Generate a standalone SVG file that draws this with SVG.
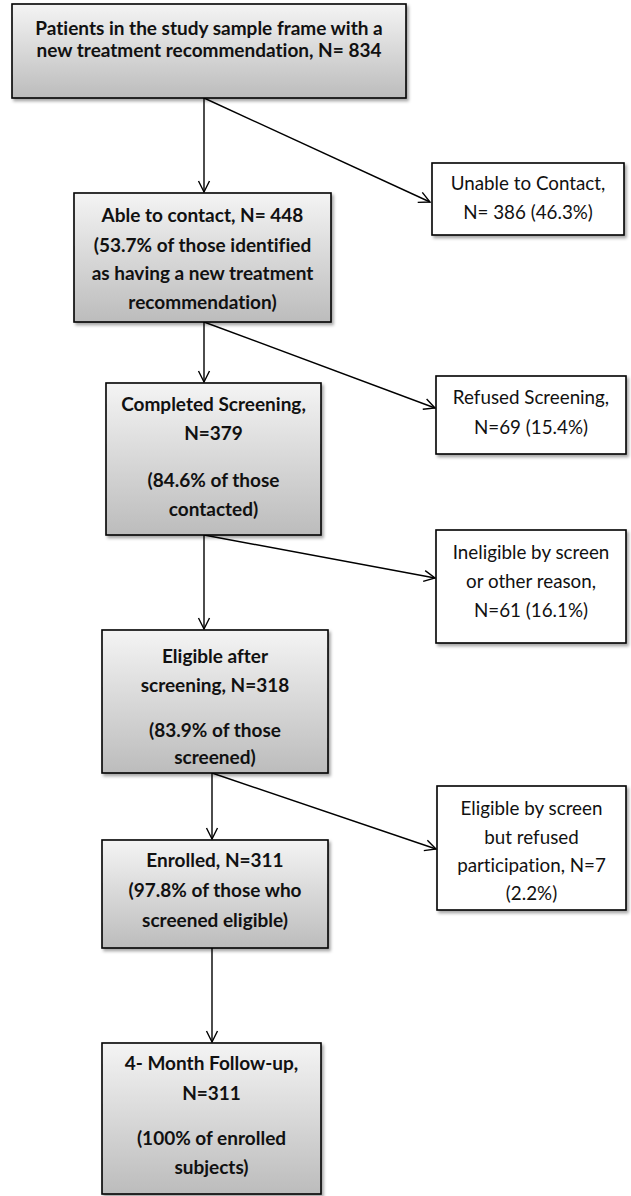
<svg xmlns="http://www.w3.org/2000/svg" width="631" height="1196" viewBox="0 0 631 1196">
<style>
.g{fill:url(#grad);stroke:#000;stroke-width:1.6;filter:url(#sh)}
.w{fill:#fff;stroke:#000;stroke-width:1.6;filter:url(#sh)}
.b{font-family:Lato,"Liberation Sans",sans-serif;font-weight:bold;font-size:19px;fill:#111;text-anchor:middle;font-variant-ligatures:none}
.r{font-family:Lato,"Liberation Sans",sans-serif;font-size:18.8px;fill:#111;text-anchor:middle;font-variant-ligatures:none}
.c{stroke:#000;stroke-width:1.4;fill:none;marker-end:url(#ah)}
</style>
<defs>
<linearGradient id="grad" x1="0" y1="0" x2="0" y2="1">
<stop offset="0" stop-color="#f4f4f4"/>
<stop offset="1" stop-color="#bcbcbc"/>
</linearGradient>
<filter id="sh" x="-10%" y="-10%" width="125%" height="125%">
<feDropShadow dx="2" dy="2.5" stdDeviation="1.5" flood-color="#000" flood-opacity="0.35"/>
</filter>
<marker id="ah" markerWidth="14" markerHeight="14" refX="12" refY="7" orient="auto" markerUnits="userSpaceOnUse">
<path d="M1,1.5 L12,7 L1,12.5" fill="none" stroke="#000" stroke-width="1.4"/>
</marker>
</defs>
<rect width="631" height="1196" fill="#fff"/>
<g id="connectors">
<line class="c" x1="204" y1="98" x2="204" y2="192"/>
<line class="c" x1="204" y1="98" x2="430" y2="202"/>
<line class="c" x1="204" y1="322" x2="204" y2="382"/>
<line class="c" x1="204" y1="322" x2="435" y2="408"/>
<line class="c" x1="204" y1="535" x2="204" y2="629"/>
<line class="c" x1="204" y1="535" x2="435" y2="578"/>
<line class="c" x1="212" y1="773" x2="212" y2="839"/>
<line class="c" x1="212" y1="773" x2="436" y2="849"/>
<line class="c" x1="212" y1="948" x2="212" y2="1042"/>
</g>
<g id="n1">
<rect class="g" x="12" y="4" width="394" height="94"/>
<text class="b" x="209" y="35">Patients in the study sample frame with a</text>
<text class="b" x="209" y="57">new treatment recommendation, N= 834</text>
</g>
<g id="n2">
<rect class="w" x="432" y="163" width="192" height="72"/>
<text class="r" x="528" y="190">Unable to Contact,</text>
<text class="r" x="528" y="219">N= 386 (46.3%)</text>
</g>
<g id="n3">
<rect class="g" x="74" y="193" width="257" height="129"/>
<text class="b" x="202.5" y="222">Able to contact, N= 448</text>
<text class="b" x="202.5" y="252">(53.7% of those identified</text>
<text class="b" x="202.5" y="280">as having a new treatment</text>
<text class="b" x="202.5" y="309">recommendation)</text>
</g>
<g id="n4">
<rect class="w" x="436" y="376" width="190" height="78"/>
<text class="r" x="531" y="404">Refused Screening,</text>
<text class="r" x="531" y="434">N=69 (15.4%)</text>
</g>
<g id="n5">
<rect class="g" x="106" y="383" width="215" height="152"/>
<text class="b" x="213.5" y="411">Completed Screening,</text>
<text class="b" x="213.5" y="440">N=379</text>
<text class="b" x="213.5" y="487">(84.6% of those</text>
<text class="b" x="213.5" y="516">contacted)</text>
</g>
<g id="n6">
<rect class="w" x="436" y="530" width="190" height="113"/>
<text class="r" x="531" y="559">Ineligible by screen</text>
<text class="r" x="531" y="588">or other reason,</text>
<text class="r" x="531" y="617">N=61 (16.1%)</text>
</g>
<g id="n7">
<rect class="g" x="102" y="630" width="226" height="143"/>
<text class="b" x="215" y="663">Eligible after</text>
<text class="b" x="215" y="692">screening, N=318</text>
<text class="b" x="215" y="737">(83.9% of those</text>
<text class="b" x="215" y="764">screened)</text>
</g>
<g id="n8">
<rect class="w" x="437" y="786" width="189" height="124"/>
<text class="r" x="531.5" y="815">Eligible by screen</text>
<text class="r" x="531.5" y="844">but refused</text>
<text class="r" x="531.5" y="872">participation, N=7</text>
<text class="r" x="531.5" y="900">(2.2%)</text>
</g>
<g id="n9">
<rect class="g" x="102" y="840" width="226" height="108"/>
<text class="b" x="215" y="867">Enrolled, N=311</text>
<text class="b" x="215" y="897">(97.8% of those who</text>
<text class="b" x="215" y="927">screened eligible)</text>
</g>
<g id="n10">
<rect class="g" x="102" y="1043" width="219" height="151"/>
<text class="b" x="211.5" y="1070">4- Month Follow-up,</text>
<text class="b" x="211.5" y="1100">N=311</text>
<text class="b" x="211.5" y="1145">(100% of enrolled</text>
<text class="b" x="211.5" y="1174">subjects)</text>
</g>
</svg>
